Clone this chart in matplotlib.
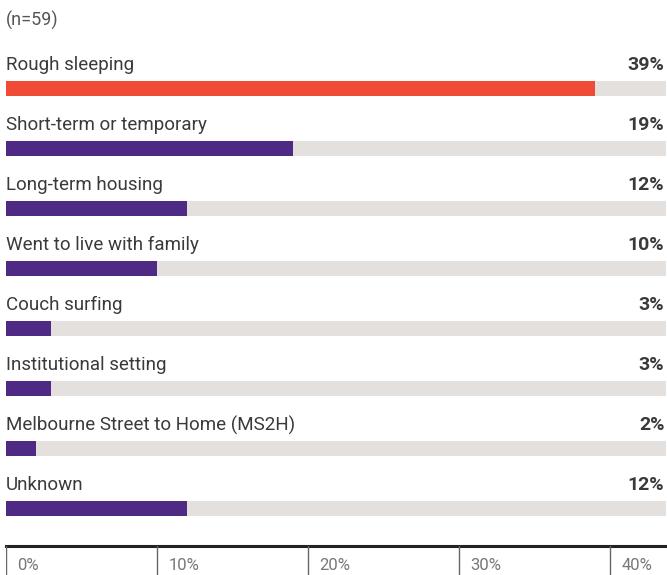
import matplotlib
matplotlib.use('Agg')
import matplotlib.pyplot as plt

# ── Data ──────────────────────────────────────────────────────────────────────
categories = [
    "Rough sleeping",
    "Short-term or temporary",
    "Long-term housing",
    "Went to live with family",
    "Couch surfing",
    "Institutional setting",
    "Melbourne Street to Home (MS2H)",
    "Unknown",
]
values = [39, 19, 12, 10, 3, 3, 2, 12]
tick_values = [0, 10, 20, 30, 40]
note = "(n=59)"

RED = "#F04B37"
PURPLE = "#4E2A84"
TRACK = "#E4E0DD"
TEXT = "#3a3a3a"
plt.rcParams['font.family'] = ['Roboto', 'DejaVu Sans']

W, H = 667, 575
XMAX = 43.7
fig = plt.figure(figsize=(W / 100, H / 100), dpi=100)

# ── Bars ──────────────────────────────────────────────────────────────────────
ax = fig.add_axes([6 / W, 1 - 546 / H, 660 / W, 546 / H])
ax.set_xlim(0, XMAX)
ax.set_ylim((546 - 88) / 60, -88 / 60)
ax.axis('off')

rows = range(len(categories))
ax.barh(rows, [XMAX] * len(values), height=15 / 60, color=TRACK, left=0)
colors = [RED] + [PURPLE] * (len(values) - 1)
ax.barh(rows, values, height=15 / 60, color=colors, left=0)

for i, (cat, v) in enumerate(zip(categories, values)):
    ax.text(0, i - 23 / 60, cat, ha='left', va='center', fontsize=13.5,
            color=TEXT)
    ax.text(XMAX - 0.1, i - 23 / 60, f"{v}%", ha='right', va='center',
            fontsize=14, fontweight='bold', color=TEXT)

ax.text(0, -68 / 60, note, ha='left', va='center', fontsize=13,
        color="#555555")

# ── Bottom scale ──────────────────────────────────────────────────────────────
ax2 = fig.add_axes([6 / W, 0, 660 / W, 29 / H])
ax2.set_xlim(0, XMAX)
ax2.set_ylim(0, 1)
ax2.axis('off')
ax2.axhline(1, color="#222222", linewidth=2.2, clip_on=False)
for t in tick_values:
    ax2.axvline(t, color="#666666", linewidth=1)
    ax2.text(t + 0.75, 0.08, f"{t}%", ha='left', va='bottom', fontsize=12,
             color="#777777")

fig.savefig("out.png", dpi=100)
